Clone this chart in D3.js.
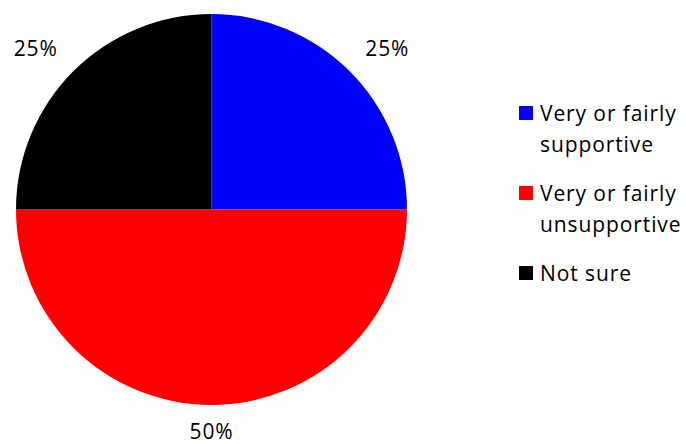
<!DOCTYPE html>
<html>
<head>
<meta charset="utf-8">
<script src="https://cdn.jsdelivr.net/npm/d3@7"></script>
<style>
  html, body { margin: 0; padding: 0; background: #fff; }
  svg text { font-family: "Open Sans", Lato, sans-serif; fill: #000; letter-spacing: 0.9px; }
</style>
</head>
<body>
<svg id="chart" width="686" height="444"></svg>
<script>
// Survey responses, in clockwise order from 12 o'clock
const categories = ["Very or fairly supportive", "Very or fairly unsupportive", "Not sure"];
const legendLines = [["Very or fairly", "supportive"], ["Very or fairly", "unsupportive"], ["Not sure"]];
const values = [25, 50, 25];
const colors = ["#0000ff", "#ff0000", "#000000"];

const svg = d3.select("#chart");
const cx = 211.5, cy = 209.5, radius = 195.5;
const fontSize = 21;

const pie = d3.pie().sort(null).value(d => d)(values);
const arc = d3.arc().innerRadius(0).outerRadius(radius);

const g = svg.append("g").attr("transform", `translate(${cx},${cy})`);
g.selectAll("path.slice")
  .data(pie)
  .join("path")
  .attr("class", "slice")
  .attr("d", arc)
  .attr("fill", (d, i) => colors[i]);

// Percentage labels placed just outside each slice's outer edge
const gap = 22;
const total = d3.sum(values);
g.selectAll("text.pct")
  .data(pie)
  .join("text")
  .attr("class", "pct")
  .attr("font-size", fontSize)
  .attr("text-anchor", "middle")
  .text(d => Math.round(d.data / total * 100) + "%")
  .each(function (d) {
    const a = (d.startAngle + d.endAngle) / 2;
    const s = Math.sin(a), c = Math.cos(a);
    const w = this.getBBox().width, h = fontSize * 0.72;
    const px = (radius + gap) * s, py = -(radius + gap) * c;
    const sx = Math.abs(s) < 1e-3 ? 0 : Math.sign(s);
    const sy = Math.abs(c) < 1e-3 ? 0 : -Math.sign(c);
    const lx = px + sx * w / 2;
    const ly = py + sy * h / 2;
    d3.select(this).attr("x", lx).attr("y", Math.min(ly + h / 2, 439 - cy));
  });

// Legend
const legend = svg.append("g").attr("transform", "translate(519,0)");
const item = legend.selectAll("g.item")
  .data(categories)
  .join("g")
  .attr("class", "item")
  .attr("transform", (d, i) => `translate(0,${120.5 + i * 80})`);

item.append("rect")
  .attr("x", 0).attr("y", -14.5)
  .attr("width", 14).attr("height", 14)
  .attr("fill", (d, i) => colors[i]);

item.append("text")
  .attr("font-size", fontSize)
  .selectAll("tspan")
  .data((d, i) => legendLines[i])
  .join("tspan")
  .attr("x", 21)
  .attr("y", (d, j) => j * 31.5)
  .text(d => d);
</script>
</body>
</html>
